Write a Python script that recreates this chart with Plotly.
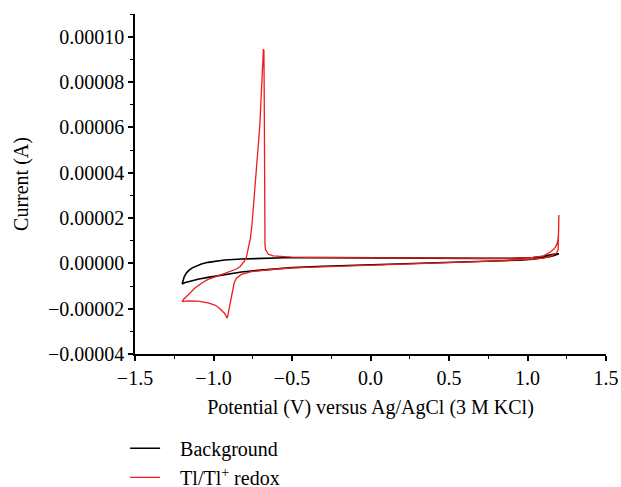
import plotly.graph_objects as go

SCALE = 1e-5  # current values below are in units of 1e-5 A

# Background CV (black)
bg_V = [-1.2, -1.18, -1.141, -1.1, -1.035, -0.97, -0.929, -0.87, -0.822, -0.717, -0.6, -0.5, -0.3, -0.1,
        0.06, 0.3, 0.5, 0.7, 0.823, 0.95, 1.035, 1.1, 1.141, 1.17, 1.2,
        1.17, 1.141, 1.1, 1.035, 0.9, 0.7, 0.5, 0.3, 0.1, -0.1, -0.3, -0.547, -0.717, -0.822, -0.929,
        -1.0, -1.035, -1.077, -1.11, -1.135, -1.155, -1.172, -1.186, -1.196, -1.2]
bg_I = [-0.91, -0.85, -0.78, -0.70, -0.62, -0.54, -0.49, -0.43, -0.38, -0.31, -0.24, -0.19, -0.13, -0.09,
        -0.07, -0.02, 0.02, 0.07, 0.10, 0.14, 0.18, 0.23, 0.29, 0.35, 0.42,
        0.41, 0.37, 0.31, 0.26, 0.22, 0.22, 0.23, 0.24, 0.25, 0.25, 0.25, 0.247, 0.221, 0.19, 0.146,
        0.09, 0.044, -0.03, -0.11, -0.20, -0.30, -0.42, -0.58, -0.76, -0.91]

# Tl/Tl+ redox CV (red)
tl_V = [-1.2, -1.19, -1.162, -1.12, -1.077, -1.035, -0.971, -0.908, -0.854, -0.83, -0.812, -0.80, -0.79,
        -0.775, -0.765, -0.755, -0.745, -0.735, -0.725, -0.715, -0.705, -0.697, -0.690, -0.685, -0.682,
        -0.679, -0.677, -0.676, -0.675, -0.672, -0.668, -0.66, -0.65, -0.62, -0.58,
        -0.5, -0.3, 0.0, 0.3, 0.6, 0.9, 1.035, 1.1, 1.12, 1.15, 1.173, 1.185, 1.194, 1.198, 1.2,
        1.199, 1.195, 1.185, 1.16, 1.141, 1.1, 1.035, 0.823, 0.5, 0.3, 0.06, -0.1, -0.3, -0.5, -0.6,
        -0.717, -0.759, -0.822, -0.854, -0.869, -0.882, -0.897, -0.905, -0.912,
        -0.93, -0.95, -0.97, -0.992, -1.035, -1.1, -1.16, -1.2]
tl_I = [-1.69, -1.58, -1.40, -1.10, -0.88, -0.71, -0.55, -0.40, -0.25, -0.14, 0.0, 0.13, 0.29,
        0.7, 1.1, 1.7, 2.5, 3.4, 4.3, 5.2, 6.1, 7.1, 8.1, 8.9, 9.45,
        9.4, 7.5, 4.0, 1.5, 0.8, 0.6, 0.48, 0.40, 0.33, 0.30,
        0.27, 0.25, 0.24, 0.25, 0.23, 0.22, 0.26, 0.32, 0.40, 0.52, 0.66, 0.80, 1.03, 1.4, 2.13,
        1.0, 0.6, 0.45, 0.35, 0.30, 0.23, 0.19, 0.11, 0.03, -0.01, -0.07, -0.10, -0.14, -0.20, -0.25,
        -0.32, -0.37, -0.49, -0.66, -0.88, -1.40, -1.91, -2.2, -2.42,
        -2.2, -2.06, -1.94, -1.84, -1.74, -1.67, -1.66, -1.69]

x_ticks = [-1.5, -1.0, -0.5, 0.0, 0.5, 1.0, 1.5]
y_ticks = [-0.00004, -0.00002, 0.0, 0.00002, 0.00004, 0.00006, 0.00008, 0.00010]

FONT = "Liberation Serif"
PAD = "\u00a0\u00a0\u00a0"

fig = go.Figure()
fig.add_trace(go.Scatter(x=bg_V, y=[v * SCALE for v in bg_I], mode="lines",
                         line=dict(color="black", width=1.6), name=PAD + "Background"))
fig.add_trace(go.Scatter(x=tl_V, y=[v * SCALE for v in tl_I], mode="lines",
                         line=dict(color="#ee1c1c", width=1.3), name=PAD + "Tl/Tl<sup>+</sup> redox"))

axis_common = dict(showline=True, linecolor="black", linewidth=1.5, ticks="outside",
                   ticklen=5, tickwidth=1.5, tickcolor="black", showgrid=False, zeroline=False,
                   mirror=False, tickfont=dict(family=FONT, size=20, color="black"))

fig.update_xaxes(range=[-1.5, 1.5], tickvals=x_ticks,
                 ticktext=[("\u2212" if t < 0 else "") + f"{abs(t):.1f}" for t in x_ticks],
                 minor=dict(dtick=0.25, ticklen=3, tickwidth=1.2, tickcolor="black", ticks="outside"),
                 title=dict(text="Potential (V) versus Ag/AgCl (3 M KCl)",
                            font=dict(family=FONT, size=20, color="black"), standoff=12),
                 **axis_common)
fig.update_yaxes(range=[-0.00004, 0.00011], tickvals=y_ticks,
                 ticktext=[("\u2212" if t < 0 else "") + f"{abs(t):.5f}" for t in y_ticks],
                 minor=dict(dtick=0.00001, tick0=0, ticklen=3, tickwidth=1.2, tickcolor="black", ticks="outside"),
                 title=dict(text="Current (A)", font=dict(family=FONT, size=20, color="black"), standoff=14),
                 **axis_common)

fig.update_layout(
    width=621, height=487,
    margin=dict(l=135, r=15, t=14, b=133, autoexpand=False),
    plot_bgcolor="white", paper_bgcolor="white",
    font=dict(family=FONT, size=20, color="black"),
    showlegend=True,
    legend=dict(x=-0.021, y=-0.22, xanchor="left", yanchor="top",
                bgcolor="rgba(0,0,0,0)", font=dict(family=FONT, size=20, color="black"),
                tracegroupgap=0, itemwidth=30),
)

fig.write_html("out.html")
